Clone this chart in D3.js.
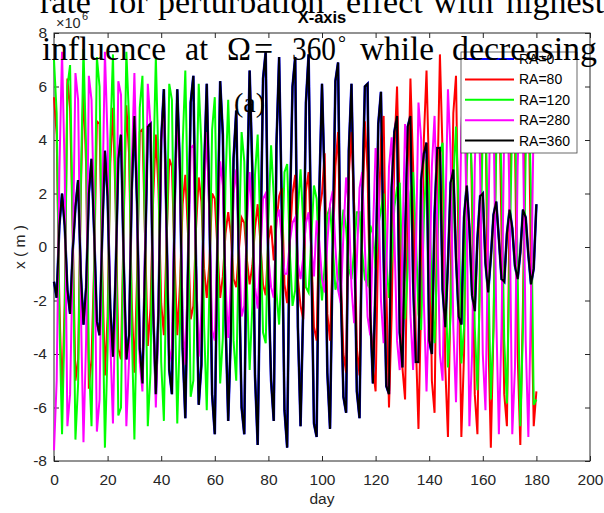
<!DOCTYPE html>
<html>
<head>
<meta charset="utf-8">
<title>X-axis</title>
<script src="https://d3js.org/d3.v7.min.js"></script>
<style>
  body { margin: 0; background: #fff; }
</style>
</head>
<body>
<svg id="chart" width="604" height="513"></svg>
<script>
// day index of every sample
var days = d3.range(0, 181)

// x position (10^6 m), one value per day
var ra360 = [
  -1.3, -1.9, 0.8, 2.0, 0.8, -1.6, -2.5, -0.1, 1.5, 2.5,
  -1.0, -2.9, -1.5, 2.0, 3.3, 0.5, -2.8, -3.3, 0.5, 3.6,
  1.9, -2.3, -4.1, -1.0, 3.3, 4.2, -0.5, -4.2, -3.3, 2.1,
  4.9, 1.6, -3.8, -5.1, -0.4, 4.5, 4.6, -2.3, -5.5, -2.3,
  4.0, 5.9, 0.7, -4.6, -5.5, 1.4, 5.9, 2.9, -3.8, -6.4,
  -0.8, 5.4, 6.4, -0.7, -5.9, -4.4, 2.8, 6.1, 1.4, -5.5,
  -7.0, 0.4, 6.2, 4.2, -2.7, -6.5, -3.2, 3.3, 5.1, -0.8,
  -6.0, -7.0, 1.9, 6.6, 2.9, -4.8, -7.4, -0.5, 6.3, 7.3,
  -1.2, -5.0, -6.5, 3.8, 7.1, 1.4, -6.1, -7.5, 1.1, 6.0,
  7.1, -3.0, -6.7, -2.2, 5.4, 7.2, -0.2, -6.6, -7.1, 2.1,
  6.1, 2.3, -4.7, -6.8, -0.1, 6.2, 6.9, -1.5, -5.6, -6.2,
  3.6, 6.1, 0.9, -5.4, -6.4, 1.6, 6.0, 6.1, -2.4, -5.1,
  -1.3, 4.6, 5.8, -0.4, -5.2, -5.5, 2.2, 4.3, 4.9, -3.2,
  -4.5, 0.3, 4.5, 4.9, -1.3, -4.3, -4.3, 2.5, 3.5, 3.9,
  -3.5, -4.0, 1.2, 3.7, 3.7, -1.6, -3.0, -0.6, 2.4, 2.9,
  -0.4, -2.6, -2.9, 1.1, 2.3, 0.7, -1.8, -2.4, 0.3, 1.9,
  2.0, -0.6, -1.7, -0.4, 1.2, 1.7, 0.3, -1.2, -1.3, 0.5,
  1.4, 0.7, -0.7, -1.2, -0.2, 1.4, 1.1, -0.3, -1.4, -0.8,
  1.6
]

// RA=0 lies under RA=360 all the way
var ra0 = [
  -1.3, -1.9, 0.8, 2.0, 0.8, -1.6, -2.5, -0.1, 1.5, 2.5,
  -1.0, -2.9, -1.5, 2.0, 3.3, 0.5, -2.8, -3.3, 0.5, 3.6,
  1.9, -2.3, -4.1, -1.0, 3.3, 4.2, -0.5, -4.2, -3.3, 2.1,
  4.9, 1.6, -3.8, -5.1, -0.4, 4.5, 4.6, -2.3, -5.5, -2.3,
  4.0, 5.9, 0.7, -4.6, -5.5, 1.4, 5.9, 2.9, -3.8, -6.4,
  -0.8, 5.4, 6.4, -0.7, -5.9, -4.4, 2.8, 6.1, 1.4, -5.5,
  -7.0, 0.4, 6.2, 4.2, -2.7, -6.5, -3.2, 3.3, 5.1, -0.8,
  -6.0, -7.0, 1.9, 6.6, 2.9, -4.8, -7.4, -0.5, 6.3, 7.3,
  -1.2, -5.0, -6.5, 3.8, 7.1, 1.4, -6.1, -7.5, 1.1, 6.0,
  7.1, -3.0, -6.7, -2.2, 5.4, 7.2, -0.2, -6.6, -7.1, 2.1,
  6.1, 2.3, -4.7, -6.8, -0.1, 6.2, 6.9, -1.5, -5.6, -6.2,
  3.6, 6.1, 0.9, -5.4, -6.4, 1.6, 6.0, 6.1, -2.4, -5.1,
  -1.3, 4.6, 5.8, -0.4, -5.2, -5.5, 2.2, 4.3, 4.9, -3.2,
  -4.5, 0.3, 4.5, 4.9, -1.3, -4.3, -4.3, 2.5, 3.5, 3.9,
  -3.5, -4.0, 1.2, 3.7, 3.7, -1.6, -3.0, -0.6, 2.4, 2.9,
  -0.4, -2.6, -2.9, 1.1, 2.3, 0.7, -1.8, -2.4, 0.3, 1.9,
  2.0, -0.6, -1.7, -0.4, 1.2, 1.7, 0.3, -1.2, -1.3, 0.5,
  1.4, 0.7, -0.7, -1.2, -0.2, 1.4, 1.1, -0.3, -1.4, -0.8,
  1.6
]

var ra80 = [
  5.6, 4.2, -2.1, -5.6, -2.1, 6.3, 5.2, 0.5, -5.0, -4.2,
  2.0, 6.0, 3.0, -5.3, -4.2, -0.6, 4.7, 4.6, -0.8, -4.8,
  -2.6, 3.1, 5.2, 1.6, -3.8, -4.2, 0.9, 5.3, 3.5, -2.0,
  -4.7, -1.1, 4.3, 4.4, 0.3, -3.7, -2.3, 1.8, 4.2, 2.1,
  -2.1, -3.3, 0.2, 3.3, 3.0, -0.5, -3.3, -1.4, 1.6, 2.7,
  0.5, -2.7, -2.2, 0.7, 2.6, 1.7, -0.8, -1.9, -0.6, 2.0,
  1.8, -0.1, -1.9, -1.1, 0.5, 1.3, 0.5, -1.2, -1.5, -0.1,
  1.1, 0.9, -0.5, -1.4, -0.7, 0.7, 1.6, 0.2, -1.4, -1.8,
  0.3, 0.8, -0.5, 0.9, 1.9, 2.2, -1.4, -2.1, 0.3, 2.0,
  2.7, -1.2, -2.2, -2.7, 2.1, 2.8, -0.1, -3.0, -3.5, 1.3,
  2.0, 3.5, -2.5, -3.5, -0.3, 3.0, 4.3, -1.1, -4.0, -4.7,
  2.7, 4.3, 1.5, -3.8, -4.8, 0.9, 4.7, 2.8, -2.5, -4.5,
  -5.4, 0.5, 4.0, 4.9, -1.5, -6.0, -2.5, 3.5, 6.0, 1.5,
  -4.5, -5.7, 1.5, 6.3, 3.0, -3.5, -6.8, -2.0, 4.0, 6.6,
  2.5, -5.0, -6.2, 2.0, 7.2, 3.5, -4.5, -7.1, -1.5, 5.0,
  6.4, -0.5, -7.1, -4.0, 4.0, 6.8, 1.5, -5.5, -7.0, 0.0,
  6.5, 5.0, -3.0, -7.5, -3.0, 5.0, 6.5, 0.5, -5.5, -6.7,
  1.5, 6.8, 4.0, -4.0, -7.4, -2.0, 5.0, 6.5, -1.0, -6.7,
  -5.4
]

var ra120 = [
  7.0, 5.0, -2.6, -7.0, -2.6, 6.0, 6.8, 0.5, -7.2, -5.1,
  2.3, 7.4, 3.6, -4.2, -6.7, -0.8, 7.1, 6.0, -1.3, -7.5,
  -3.8, 4.0, 7.2, 1.9, -6.3, -6.0, 1.0, 7.3, 4.8, -3.0,
  -7.2, -2.1, 5.2, 6.4, 0.1, -6.7, -4.7, 2.6, 7.1, 3.1,
  -4.3, -6.5, -0.4, 6.1, 5.5, -1.6, -6.6, -3.0, 3.8, 6.6,
  1.3, -5.6, -5.0, 1.2, 6.1, 3.8, -2.9, -6.1, -1.5, 4.4,
  5.6, -0.1, -5.1, -3.4, 2.4, 5.5, 2.2, -3.5, -5.0, 0.1,
  4.3, 3.2, -1.5, -4.6, -2.2, 2.7, 4.2, 0.6, -3.2, -3.6,
  1.0, 3.8, 1.9, -1.7, -2.9, -0.6, 2.8, 3.1, -0.2, -2.2,
  -1.6, 1.4, 2.9, 0.9, -1.5, -1.7, 0.3, 2.3, 1.8, -0.7,
  -2.0, -0.7, 1.2, 1.5, 0.1, -1.6, -1.2, 0.4, 1.4, 0.7,
  -0.8, -1.2, -0.1, 1.3, 1.3, -0.2, -1.2, -1.4, 0.8, 0.5,
  -0.8, 0.8, 1.4, 2.0, -0.5, -1.9, -0.5, 1.5, 2.2, 2.4,
  -1.0, -2.7, -0.8, 2.0, 2.8, 0.5, -2.5, -3.1, 1.0, 3.3,
  2.0, -2.0, -3.6, -0.5, 3.5, 3.9, -1.0, -4.5, -2.5, 2.5,
  4.5, 1.5, -4.35, -3.0, 3.0, 5.0, 2.5, -3.0, -5.35, -1.0,
  4.5, 5.5, -0.5, -5.7, -3.0, 3.5, 5.8, 2.5, -3.5, -5.85,
  -0.5, 5.0, 5.5, -1.0, -6.7, -3.0, 3.5, 6.0, 2.0, -5.9,
  -5.7
]

var ra280 = [
  -7.6, -5.0, 2.8, 7.3, 2.8, -6.7, -5.5, -0.4, 6.5, 5.5,
  -2.2, -7.3, -3.4, 6.4, 5.5, 1.0, -6.9, -5.7, 1.4, 7.3,
  4.0, -3.5, -6.6, -1.6, 6.2, 5.7, -0.7, -6.7, -4.2, 2.9,
  6.5, 2.1, -4.3, -5.4, 0.2, 6.1, 4.6, -2.0, -6.0, -2.4,
  3.9, 5.6, 0.6, -4.3, -3.8, 1.4, 5.0, 2.7, -2.8, -4.4,
  -0.8, 3.7, 3.8, -0.8, -4.1, -2.4, 2.0, 4.3, 1.1, -3.1,
  -3.5, 0.2, 3.2, 2.3, -1.4, -3.4, -1.3, 2.0, 2.9, 0.1,
  -2.6, -2.2, 0.9, 2.8, 1.1, -1.5, -2.3, -0.3, 1.8, 2.0,
  -0.4, -1.5, -1.9, 1.0, 1.4, 0.3, -1.0, -1.0, 0.2, 0.9,
  1.1, -0.6, -1.2, -0.4, 0.9, 1.3, 0.0, -1.1, 1.0, 0.2,
  -1.2, -1.7, 0.2, 1.6, 2.1, 0.0, -1.6, -2.1, 0.5, 2.6,
  1.5, -1.5, -2.85, -0.5, 2.2, 2.8, 0.0, -2.6, -3.3, 0.5,
  3.7, 2.5, -2.0, -3.6, -1.0, 3.0, 4.1, 0.5, -3.5, -4.6,
  0.0, 4.6, 3.0, -2.5, -4.6, -0.5, 5.4, 4.0, -2.0, -5.4,
  -2.0, 3.0, 4.9, 1.0, -4.0, -5.0, 1.0, 5.9, 3.5, -3.0,
  -5.8, -1.5, 4.5, 6.2, 1.0, -6.7, -4.0, 3.0, 6.5, 3.0,
  -4.0, -6.1, 0.5, 6.5, 5.0, -2.5, -7.0, -3.0, 4.5, 6.8,
  1.5, -7.0, -4.5, 3.0, 6.8, 4.0, -3.5, -7.1, -2.0, 5.0,
  6.8
]

var seriesNames = ["RA=0", "RA=80", "RA=120", "RA=280", "RA=360"]
var seriesColors = ["#0000ff", "#ff0000", "#00ff00", "#ff00ff", "#000000"]
var xTicks = [0, 20, 40, 60, 80, 100, 120, 140, 160, 180, 200]
var yTicks = [-8, -6, -4, -2, 0, 2, 4, 6, 8]

var sansFont = "'Liberation Sans', Arial, Helvetica, sans-serif"
var serifFont = "'Liberation Serif', 'Times New Roman', serif"
var axisColor = "#262626"

var svg = d3.select("#chart")

var x = d3.scaleLinear().domain([0, 200]).range([54, 590])
var y = d3.scaleLinear().domain([-8, 8]).range([461, 33])

// axes box
svg.append("rect")
  .attr("x", x(0)).attr("y", y(8))
  .attr("width", x(200) - x(0)).attr("height", y(-8) - y(8))
  .attr("fill", "none").attr("stroke", axisColor).attr("stroke-width", 1)

function styleAxis(g) {
  g.select(".domain").remove()
  g.selectAll(".tick line").attr("stroke", axisColor)
  g.selectAll(".tick text")
    .attr("fill", axisColor)
    .style("font-family", sansFont)
    .style("font-size", "15.5px")
}

var fmt = d => String(d)

svg.append("g").attr("transform", "translate(0," + y(-8) + ")")
  .call(d3.axisBottom(x).tickValues(xTicks).tickFormat(fmt).tickSize(-5).tickSizeOuter(0).tickPadding(13))
  .call(styleAxis)
svg.append("g").attr("transform", "translate(0," + y(8) + ")")
  .call(d3.axisTop(x).tickValues(xTicks).tickFormat("").tickSize(-5).tickSizeOuter(0))
  .call(styleAxis)
svg.append("g").attr("transform", "translate(" + x(0) + ",0)")
  .call(d3.axisLeft(y).tickValues(yTicks).tickFormat(fmt).tickSize(-5).tickSizeOuter(0).tickPadding(7))
  .call(styleAxis)
svg.append("g").attr("transform", "translate(" + x(200) + ",0)")
  .call(d3.axisRight(y).tickValues(yTicks).tickFormat("").tickSize(-5).tickSizeOuter(0))
  .call(styleAxis)

// series, drawn in legend order so RA=360 ends on top
var series = [ra0, ra80, ra120, ra280, ra360]
var line = d3.line().x((d, i) => x(days[i])).y(d => y(d))

svg.append("g").selectAll("path")
  .data(series)
  .enter()
  .append("path")
    .attr("d", line)
    .attr("fill", "none")
    .attr("stroke", (d, i) => seriesColors[i])
    .attr("stroke-width", (d, i) => i == 0 ? 2.6 : 2)

// legend
var lg = svg.append("g")
lg.append("rect")
  .attr("x", 461).attr("y", 52).attr("width", 116).attr("height", 101)
  .attr("fill", "#fff").attr("stroke", "#444").attr("stroke-width", 0.8)
seriesNames.forEach(function(name, i) {
  var yy = 59 + i * 20.4
  lg.append("line")
    .attr("x1", 465).attr("x2", 514).attr("y1", yy).attr("y2", yy)
    .attr("stroke", seriesColors[i]).attr("stroke-width", 2)
  lg.append("text")
    .attr("x", 519).attr("y", yy).attr("dy", "0.36em")
    .style("font-family", sansFont).style("font-size", "14px")
    .attr("fill", "#000")
    .text(name)
})

// title and labels
svg.append("text")
  .attr("x", 322).attr("y", 23).attr("text-anchor", "middle")
  .style("font-family", sansFont).style("font-size", "16.5px").style("font-weight", "bold")
  .attr("fill", "#000")
  .text("X-axis")

svg.append("text")
  .attr("x", 56).attr("y", 28)
  .style("font-family", sansFont).style("font-size", "14.5px")
  .attr("fill", axisColor)
  .text("\u00d710")
svg.append("text")
  .attr("x", 82).attr("y", 20)
  .style("font-family", sansFont).style("font-size", "11px")
  .attr("fill", axisColor)
  .text("6")

svg.append("text")
  .attr("x", 322).attr("y", 504).attr("text-anchor", "middle")
  .style("font-family", sansFont).style("font-size", "15.5px")
  .attr("fill", axisColor)
  .text("day")

svg.append("text")
  .attr("transform", "translate(25,247) rotate(-90)")
  .attr("text-anchor", "middle")
  .style("font-family", sansFont).style("font-size", "15.5px")
  .attr("fill", axisColor)
  .text("x ( m )")

// text from the page the figure was cut from, lying over the chart
var over = svg.append("g")
  .style("font-family", serifFont).attr("fill", "#000")
function word(txt, px, py, size, width) {
  var t = over.append("text").attr("x", px).attr("y", py).style("font-size", size + "px").text(txt)
  if (width) t.attr("textLength", width).attr("lengthAdjust", "spacingAndGlyphs")
}
word("rate", 40, 13, 34)
word("for", 108, 13, 34)
word("perturbation", 158, 13, 34)
word("effect", 346, 13, 34)
word("with", 433, 13, 34)
word("highest", 506, 13, 34)

word("influence", 42, 60, 34, 124)
word("at", 185, 60, 34, 23)
word("\u03a9", 227, 60, 34, 24)
word("=", 254, 60, 34)
word("360", 292, 60, 34, 44)
word("\u00b0", 338, 50, 20)
word("while", 360, 60, 34, 74)
word("decreasing", 452, 60, 34, 145)

word("(a)", 234, 112, 28)
</script>
</body>
</html>
